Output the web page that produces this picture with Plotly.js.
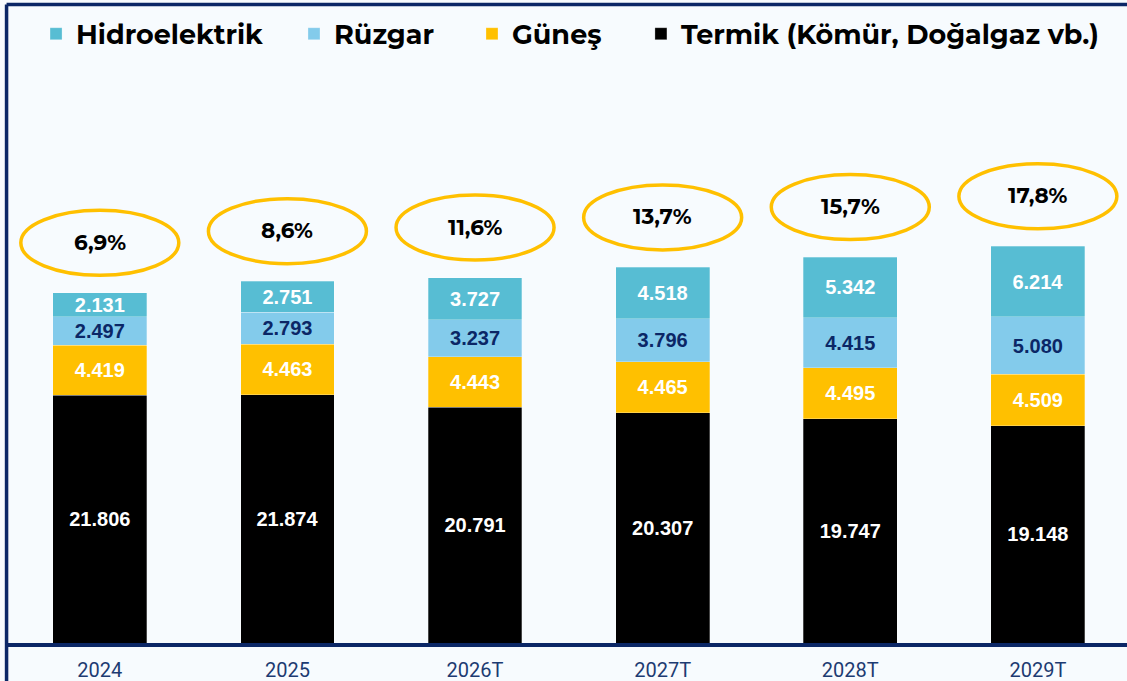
<!DOCTYPE html>
<html>
<head>
<meta charset="utf-8">
<script src="https://cdn.plot.ly/plotly-3.0.1.min.js"></script>
<style>
html,body{margin:0;padding:0;background:#f7fbfe;}
#chart{width:1127px;height:681px;}
</style>
</head>
<body>
<div id="chart"></div>
<script>
const years = ['2024','2025','2026T','2027T','2028T','2029T'];
const termik = [21806,21874,20791,20307,19747,19148];
const gunes = [4419,4463,4443,4465,4495,4509];
const ruzgar = [2497,2793,3237,3796,4415,5080];
const hidro = [2131,2751,3727,4518,5342,6214];
const shares = ['6,9%','8,6%','11,6%','13,7%','15,7%','17,8%'];

const seriesNames = ['Termik (Kömür, Doğalgaz vb.)','Güneş','Rüzgar','Hidroelektrik'];
const seriesColors = ['#000000','#FFC000','#83CBEB','#57BDD3'];
const labelColors = ['#ffffff','#ffffff','#0b2766','#ffffff'];
const seriesData = [termik, gunes, ruzgar, hidro];
const legendIds = ['legend4','legend3','legend2','legend'];
const legendX = [0.5664, 0.4157, 0.2569, 0.0268];

const navy = '#0b2766';
const labelFont = 'Liberation Sans, Arial, sans-serif';
const boldFont = 'Montserrat, Inter, Open Sans, sans-serif';

const traces = seriesData.map((vals, k) => ({
  type: 'bar',
  name: seriesNames[k],
  legend: legendIds[k],
  x: years,
  y: vals,
  marker: {color: seriesColors[k], line: {color: 'rgba(255,255,255,0.35)', width: 0.8}},
  texttemplate: '%{y:,}',
  textposition: 'inside',
  insidetextanchor: 'middle',
  textangle: 0,
  constraintext: 'none',
  insidetextfont: {family: labelFont, size: 20, color: labelColors[k], weight: 700},
  hoverinfo: 'skip'
}));

const totals = years.map((_, i) => seriesData.reduce((s, arr) => s + arr[i], 0));

const shapes = [];
const annotations = [];
years.forEach((yr, i) => {
  shapes.push({
    type: 'circle', xref: 'x', yref: 'y',
    xsizemode: 'pixel', ysizemode: 'pixel',
    xanchor: i, yanchor: totals[i],
    x0: -79, x1: 79, y0: 50 - 32.5, y1: 50 + 32.5,
    line: {color: '#FFC000', width: 3.5},
    fillcolor: 'rgba(0,0,0,0)'
  });
  annotations.push({
    x: i, y: totals[i], xref: 'x', yref: 'y',
    yshift: 51, showarrow: false,
    text: shares[i],
    font: {family: boldFont, size: 21.5, color: '#000000', weight: 700},
    xanchor: 'center', yanchor: 'middle'
  });
});

// frame lines
shapes.push({type: 'line', xref: 'paper', yref: 'paper', x0: 0.0005, x1: 0.0005, y0: 0.993, y1: -0.07,
  line: {color: navy, width: 3.5}});
shapes.push({type: 'line', xref: 'paper', yref: 'paper', x0: 0.0005, x1: 1.01, y0: 0.993, y1: 0.993,
  line: {color: navy, width: 3.5}});

const layout = {
  width: 1127, height: 681,
  margin: {l: 6, r: 0, t: 0, b: 38},
  paper_bgcolor: '#f7fbfe',
  plot_bgcolor: '#f7fbfe',
  barmode: 'stack',
  bargap: 0.5,
  separators: ',.',
  showlegend: true,
  xaxis: {
    type: 'category',
    range: [-0.5, 5.475],
    showline: true, linecolor: navy, linewidth: 4,
    ticks: '', showgrid: false, zeroline: false,
    ticklabelstandoff: 6,
    tickfont: {family: 'Roboto, sans-serif', size: 20, color: '#1d3b72'},
    fixedrange: true
  },
  yaxis: {
    range: [0, 56650],
    showticklabels: false, showgrid: false, zeroline: false, showline: false,
    fixedrange: true
  },
  shapes: shapes,
  annotations: annotations,
  hovermode: false
};

legendIds.forEach((id, k) => {
  layout[id] = {
    orientation: 'h', x: legendX[k], y: 0.985, xanchor: 'left', yanchor: 'top',
    font: {family: boldFont, size: 27, color: '#000000', weight: 700},
    bgcolor: 'rgba(0,0,0,0)'
  };
});

Plotly.newPlot('chart', traces, layout, {displayModeBar: false, staticPlot: true});
</script>
</body>
</html>
